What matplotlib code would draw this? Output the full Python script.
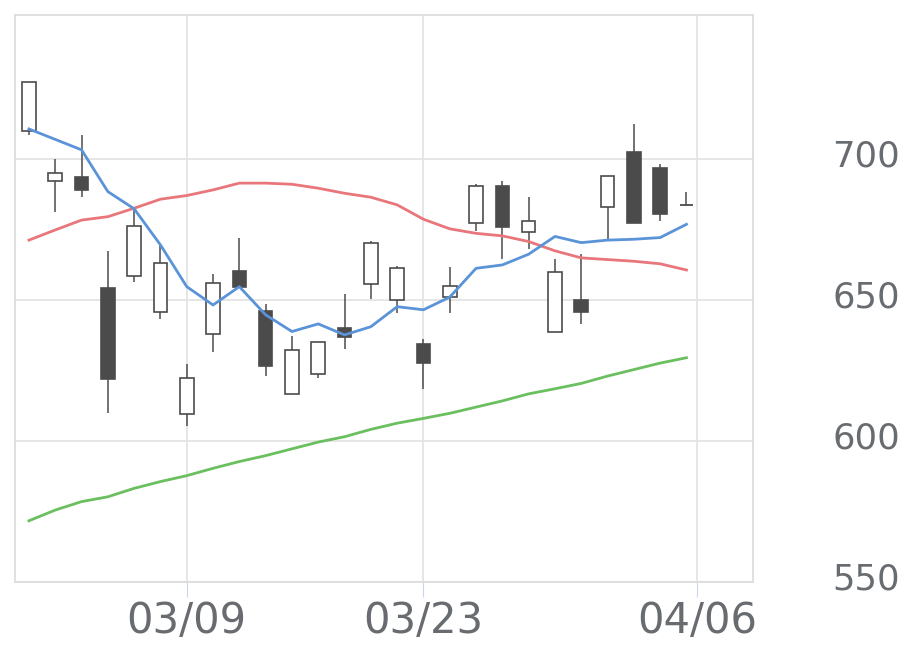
import matplotlib
matplotlib.use("Agg")
import matplotlib.pyplot as plt
import matplotlib.transforms as mtransforms
from matplotlib.patches import Rectangle

# daily candles (02/27 .. 04/06)
opens = [709.9, 692.0, 693.5, 654.1, 658.3, 645.7, 609.6, 637.9, 660.3, 646.1,
         616.7, 623.9, 640.0, 655.8, 649.9, 634.3, 651.1, 677.2, 690.4, 674.2,
         638.7, 650.0, 683.0, 702.4, 696.9, 683.8]
closes = [727.1, 695.1, 689.0, 622.0, 676.1, 663.1, 622.2, 656.0, 654.5, 626.7,
          632.3, 635.2, 636.8, 670.3, 661.3, 627.8, 654.9, 690.4, 676.0, 678.0,
          660.0, 645.7, 694.0, 677.1, 680.6, 683.8]
highs = [727.1, 700.0, 708.3, 667.4, 682.5, 669.5, 627.2, 659.1, 672.1, 648.5,
         637.2, 635.2, 652.0, 670.9, 662.1, 636.1, 661.5, 691.1, 692.3, 686.4,
         664.4, 666.2, 694.0, 712.4, 698.2, 688.2]
lows = [708.5, 681.1, 686.6, 610.0, 656.3, 643.3, 605.3, 631.5, 654.5, 623.0,
        616.7, 622.4, 632.5, 650.4, 645.5, 618.3, 645.5, 674.6, 664.5, 668.1,
        638.7, 641.5, 671.3, 677.1, 678.1, 683.8]

# moving averages
ma_short = [710.6, 706.9, 703.2, 688.4, 682.3, 669.5, 654.7, 648.2, 654.7, 644.7,
            638.8, 641.5, 637.6, 640.5, 647.6, 646.5, 651.0, 661.2, 662.4, 666.2,
            672.5, 670.3, 671.2, 671.5, 672.1, 676.8]
ma_mid = [671.2, 674.8, 678.3, 679.5, 682.5, 685.7, 687.0, 689.0, 691.4, 691.4,
          691.0, 689.6, 687.8, 686.4, 683.7, 678.6, 675.2, 673.6, 672.7, 670.7,
          667.4, 664.9, 664.3, 663.7, 662.8, 660.6]
ma_long = [571.7, 575.5, 578.5, 580.2, 583.2, 585.6, 587.7, 590.3, 592.7, 594.8,
           597.2, 599.6, 601.5, 604.1, 606.3, 608.0, 609.8, 612.0, 614.2, 616.7,
           618.5, 620.4, 623.0, 625.3, 627.6, 629.5]

tick_pos = [6, 15, 25.4]
tick_labels = ["03/09", "03/23", "04/06"]

text_color = "#686c70"
dark = "#4b4b4b"

fig = plt.figure(figsize=(9.2, 6.69), dpi=100)
ax = fig.add_axes([15 / 920, 1 - 582 / 669, (753 - 15) / 920, (582 - 15) / 669])

n = len(opens)
x = list(range(n))
w = 0.52

ax.plot(x, ma_long, color="#6abf5e", lw=2.0, zorder=3)
ax.plot(x, ma_mid, color="#e8767b", lw=2.0, zorder=3)
ax.plot(x, ma_short, color="#5b93d9", lw=2.0, zorder=4)

for i in range(n):
    o, c, h, l = opens[i], closes[i], highs[i], lows[i]
    ax.vlines(i, l, h, color=dark, lw=1.1, zorder=2)
    lo, hi = min(o, c), max(o, c)
    face = "white" if c > o else dark
    if hi - lo < 0.3:
        ax.hlines(o, i - w / 2, i + w / 2, color=dark, lw=1.3, zorder=2)
    else:
        ax.add_patch(Rectangle((i - w / 2, lo), w, hi - lo, facecolor=face,
                               edgecolor=dark, lw=1.2, zorder=2))

ax.set_xlim(-0.53, 27.53)
ax.set_ylim(550, 751)
ax.set_yticks([550, 600, 650, 700])
ax.set_xticks(tick_pos)
ax.set_xticklabels(tick_labels)

ax.grid(True, color="#e2e2e2", lw=1.2, zorder=0)
ax.set_axisbelow(True)
for s in ax.spines.values():
    s.set_color("#dddddd")
    s.set_linewidth(1.3)

ax.yaxis.tick_right()
ax.tick_params(axis="y", length=0, pad=57, labelsize=25.5, labelcolor=text_color)
ax.tick_params(axis="x", length=11, width=0.8, color="#c9d5ee", pad=2,
               labelsize=30, labelcolor=text_color)

# nudge the price labels up a little
shift = mtransforms.ScaledTranslation(0, 4 / 72, fig.dpi_scale_trans)
for t in ax.yaxis.get_major_ticks():
    t.label2.set_transform(t.label2.get_transform() + shift)

fig.savefig("out.png", dpi=100, facecolor="white")
